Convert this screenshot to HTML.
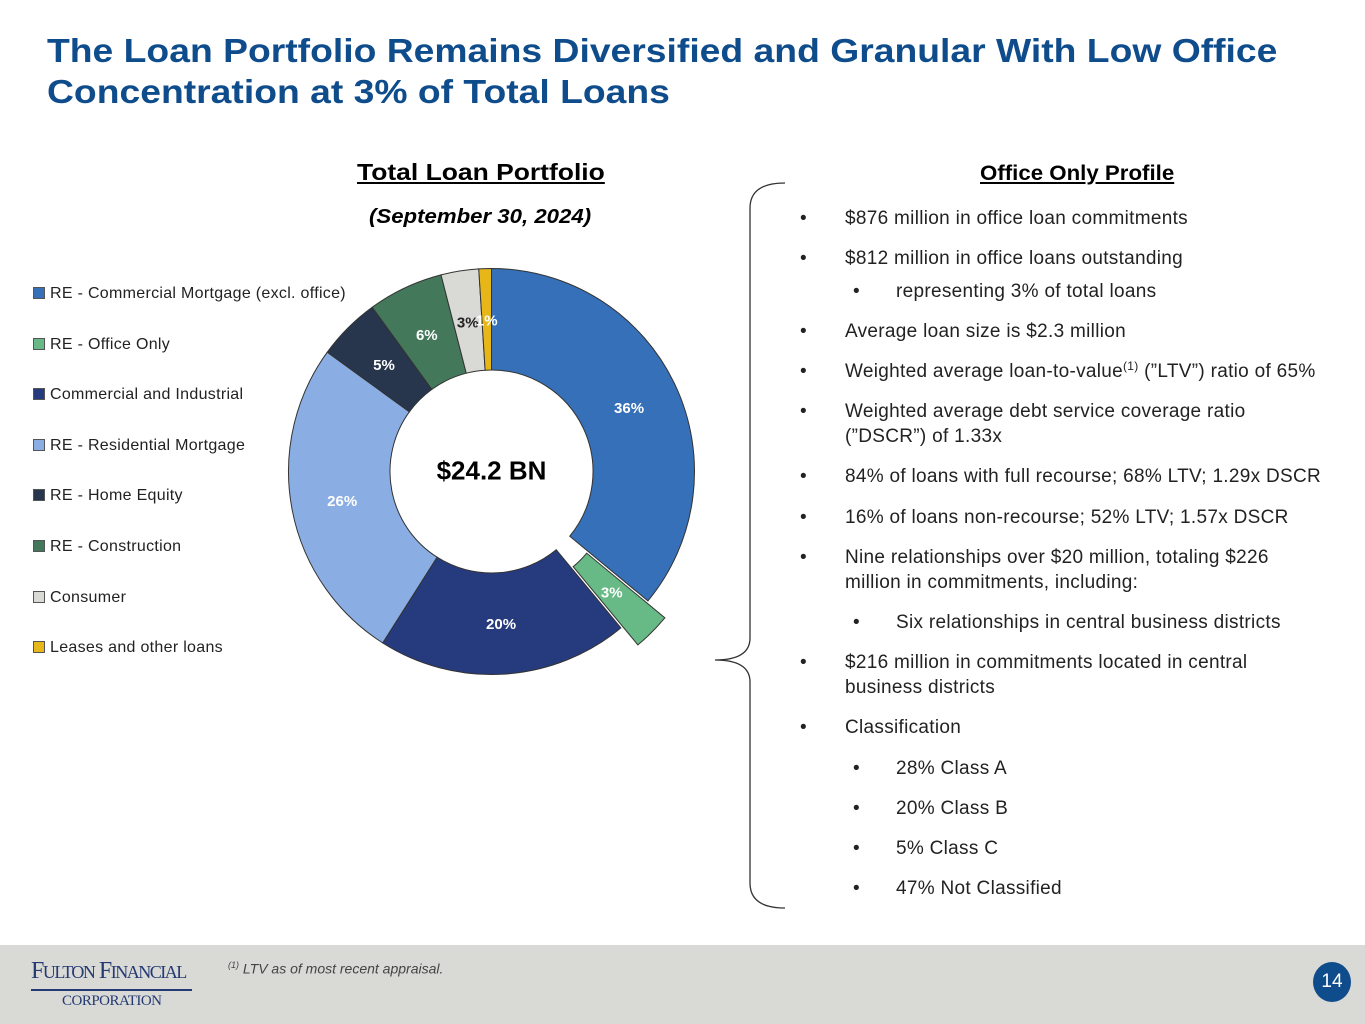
<!DOCTYPE html>
<html><head><meta charset="utf-8">
<style>
body{margin:0;width:1365px;height:1024px;position:relative;background:#fff;font-family:"Liberation Sans",sans-serif;overflow:hidden}
.t{position:absolute;white-space:nowrap}
h1{position:absolute;left:47px;top:30px;margin:0;font-size:33px;line-height:41px;color:#0f4c8c;font-weight:bold;transform:scaleX(1.13);transform-origin:0 0;white-space:nowrap}
.li{position:absolute;font-size:19px;color:#222;line-height:25px}
.leg{position:absolute;left:33px;font-size:16px;color:#222;letter-spacing:0.3px}
.leg i{display:inline-block;width:10px;height:10px;margin-right:5px;border:1px solid #555;vertical-align:-1px}
</style></head><body>
<h1>The Loan Portfolio Remains Diversified and Granular With Low Office<br>Concentration at 3% of Total Loans</h1>
<div class="t" style="left:357px;top:159px;font-size:23px;font-weight:bold;text-decoration:underline;transform:scaleX(1.15);transform-origin:0 0">Total Loan Portfolio</div>
<div class="t" style="left:369px;top:206px;font-size:20px;font-weight:bold;font-style:italic;transform:scaleX(1.11);transform-origin:0 0">(September 30, 2024)</div>
<div id="legend"></div>
<svg id="chart" width="1365" height="1024" style="position:absolute;left:0;top:0"></svg>
<div class="t" style="left:980px;top:162px;font-size:21px;font-weight:bold;text-decoration:underline;transform:scaleX(1.06);transform-origin:0 0">Office Only Profile</div>
<div id="bul"></div>
<svg width="100" height="740" style="position:absolute;left:705px;top:178px">
<path d="M80 5 Q45 5 45 30 L45 460 Q45 482 10 482 Q45 482 45 504 L45 705 Q45 730 80 730" fill="none" stroke="#333" stroke-width="1.3"/>
</svg>
<div style="position:absolute;left:0;top:945px;width:1365px;height:79px;background:#d9d9d6"></div>
<div class="t" style="left:31px;top:958px;font-family:'Liberation Serif',serif;color:#233a73;font-size:24px;letter-spacing:-1.5px">F<span style="font-size:18px">ULTON</span> F<span style="font-size:18px">INANCIAL</span></div>
<div style="position:absolute;left:31px;top:989px;width:161px;height:2px;background:#233a73"></div>
<div class="t" style="left:62px;top:993px;font-family:'Liberation Serif',serif;color:#233a73;font-size:15px;letter-spacing:-0.5px">CORPORATION</div>
<div class="t" style="left:228px;top:960px;font-size:14px;font-style:italic;color:#444"><sup style="font-size:9px">(1)</sup> LTV as of most recent appraisal.</div>
<div style="position:absolute;left:1313px;top:962px;width:38px;height:40px;border-radius:50%;background:#0f4c8c;color:#fff;font-size:19px;text-align:center;line-height:40px">14</div>
<script>
const categories=["RE - Commercial Mortgage (excl. office)","RE - Office Only","Commercial and Industrial","RE - Residential Mortgage","RE - Home Equity","RE - Construction","Consumer","Leases and other loans"];
const values=[36,3,20,26,5,6,3,1];
const labels=["36%","3%","20%","26%","5%","6%","3%","1%"];
const colors=["#3570b8","#67b985","#263b7e","#8aaee3","#27354d","#44785a","#d9d9d5","#e7b719"];
const labelColors=["#fff","#fff","#fff","#fff","#fff","#fff","#222","#fff"];
const exploded=[false,true,false,false,false,false,false,false];
const ns="http://www.w3.org/2000/svg";
const svg=document.getElementById('chart');
const cx=491.5,cy=471.5,R=203,r=101.5;
const total=values.reduce((a,b)=>a+b,0);
function pt(a,rad,ox,oy){return [cx+ox+rad*Math.sin(a),cy+oy-rad*Math.cos(a)];}
let acc=0;
values.forEach((v,i)=>{
  const a0=acc/total*2*Math.PI;acc+=v;const a1=acc/total*2*Math.PI;const am=(a0+a1)/2;
  const off=exploded[i]?24:0;const ox=off*Math.sin(am),oy=-off*Math.cos(am);
  const p1=pt(a0,R,ox,oy),p2=pt(a1,R,ox,oy),p3=pt(a1,r,ox,oy),p4=pt(a0,r,ox,oy);
  const lg=(a1-a0)>Math.PI?1:0;
  const p=document.createElementNS(ns,'path');
  p.setAttribute('d',`M${p1} A${R} ${R} 0 ${lg} 1 ${p2} L${p3} A${r} ${r} 0 ${lg} 0 ${p4}Z`);
  p.setAttribute('fill',colors[i]);p.setAttribute('stroke','#333');p.setAttribute('stroke-width','1');
  
  
  svg.appendChild(p);
  const lp=pt(am,exploded[i]?146:152,ox,oy);
  const t=document.createElementNS(ns,'text');
  t.setAttribute('x',lp[0]);t.setAttribute('y',lp[1]+6);t.setAttribute('text-anchor','middle');
  t.setAttribute('font-size','15');t.setAttribute('font-weight','bold');t.setAttribute('fill',labelColors[i]);
  t.setAttribute('font-family','Liberation Sans, sans-serif');
  t.textContent=labels[i];
  
  
  svg.appendChild(t);
});
const ct=document.createElementNS(ns,'text');
ct.setAttribute('x',cx);ct.setAttribute('y',cy+8);ct.setAttribute('text-anchor','middle');ct.setAttribute('font-size','26');ct.setAttribute('font-weight','bold');ct.setAttribute('font-family','Liberation Sans, sans-serif');
ct.textContent='$24.2 BN';


svg.appendChild(ct);
const leg=document.getElementById('legend');
categories.forEach((c,i)=>{
  const d=document.createElement('div');d.className='leg';d.style.top=(285+i*50.6)+'px';
  d.innerHTML=`<i style="background:${colors[i]}"></i>${c}`;
  
  
  leg.appendChild(d);
});
const bullets=[
[0,206,"$876 million in office loan commitments"],
[0,246,"$812 million in office loans outstanding"],
[1,279,"representing 3% of total loans"],
[0,319,"Average loan size is $2.3 million"],
[0,359,"Weighted average loan-to-value<span style='font-size:12px;position:relative;top:-7px'>(1)</span> (”LTV”) ratio of 65%"],
[0,399,"Weighted average debt service coverage ratio<br>(”DSCR”) of 1.33x"],
[0,464,"84% of loans with full recourse; 68% LTV; 1.29x DSCR"],
[0,505,"16% of loans non-recourse; 52% LTV; 1.57x DSCR"],
[0,545,"Nine relationships over $20 million, totaling $226<br>million in commitments, including:"],
[1,610,"Six relationships in central business districts"],
[0,650,"$216 million in commitments located in central<br>business districts"],
[0,715,"Classification"],
[1,756,"28% Class A"],[1,796,"20% Class B"],[1,836,"5% Class C"],[1,876,"47% Not Classified"]];
const bul=document.getElementById('bul');
bullets.forEach(b=>{
  const s=document.createElement('div');s.className='li';s.style.left=(b[0]?853:800)+'px';s.style.top=b[1]+'px';s.textContent='•';
  
  
  bul.appendChild(s);
  const d=document.createElement('div');d.className='li';d.style.left=(b[0]?896:845)+'px';d.style.top=b[1]+'px';d.style.whiteSpace='nowrap';d.style.letterSpacing='0.3px';d.innerHTML=b[2];
  
  
  bul.appendChild(d);
});
</script>
</body></html>
